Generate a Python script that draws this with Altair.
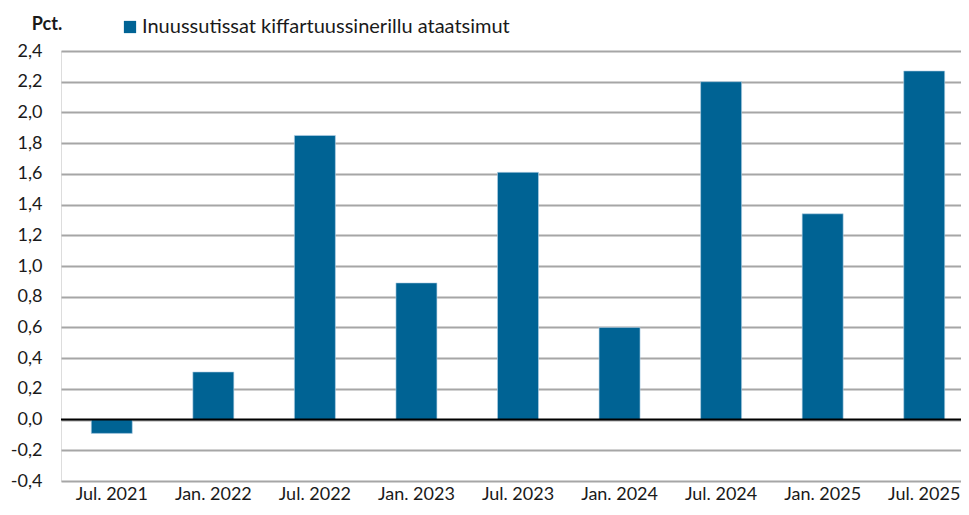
import altair as alt
import pandas as pd

periods = ["Jul. 2021", "Jan. 2022", "Jul. 2022", "Jan. 2023", "Jul. 2023",
           "Jan. 2024", "Jul. 2024", "Jan. 2025", "Jul. 2025"]
values = [-0.09, 0.31, 1.85, 0.89, 1.61, 0.60, 2.20, 1.34, 2.27]
series_name = "Inuussutissat kiffartuussinerillu ataatsimut"
y_ticks = [-0.4, -0.2, 0.0, 0.2, 0.4, 0.6, 0.8, 1.0, 1.2, 1.4, 1.6, 1.8, 2.0, 2.2, 2.4]

df = pd.DataFrame({"period": periods, "value": values, "series": series_name})

FONT = "Lato"
BLUE = "#006394"
TXT = "#1a1a1a"

label_expr = "(datum.value < -0.0001 ? '-' : '') + replace(format(abs(datum.value), '.1f'), '.', ',')"

bars = alt.Chart(df).mark_bar(size=41, stroke="#b8d4e8", strokeWidth=0.6).encode(
    x=alt.X("period:N", sort=periods,
            axis=alt.Axis(title=None, labelAngle=0, domain=False, ticks=False,
                          labelPadding=4, labelFontSize=18, labelColor=TXT,
                          labelFont=FONT, labelOverlap=False)),
    y=alt.Y("value:Q", scale=alt.Scale(domain=[-0.4, 2.4], nice=False, zero=False),
            axis=alt.Axis(values=y_ticks, tickCount=len(y_ticks), labelExpr=label_expr,
                          domain=False, ticks=False,
                          grid=True, gridColor="#a6a6a6", gridWidth=2,
                          labelPadding=19, labelFontSize=18, labelColor=TXT,
                          labelFont=FONT, labelOverlap=False, labelBound=False,
                          labelFlush=False,
                          title="Pct.", titleAngle=0, titleX=-14.5, titleY=-27,
                          titleAlign="center", titleBaseline="middle",
                          titleFont=FONT, titleFontSize=18, titleFontWeight="bold",
                          titleColor=TXT)),
    color=alt.Color("series:N", scale=alt.Scale(range=[BLUE]),
                    legend=alt.Legend(title=None, orient="none", legendX=59, legendY=-34,
                                      symbolType="square", symbolSize=150,
                                      symbolStrokeWidth=0, labelFontSize=20,
                                      labelFont=FONT, labelColor=TXT,
                                      labelLimit=700, labelOffset=2, padding=0)),
)

zero = alt.Chart(pd.DataFrame({"z": [0.0]})).mark_rule(color="#000000", strokeWidth=2).encode(
    y="z:Q"
)

chart = alt.layer(bars, zero).properties(
    width=914, height=430,
    autosize=alt.AutoSizeParams(type="none"),
    padding={"left": 53, "top": 43, "right": -14, "bottom": 26},
).configure_view(stroke=None).configure(background="white")

chart.save("out.html", embed_options={"renderer": "svg", "actions": False})
